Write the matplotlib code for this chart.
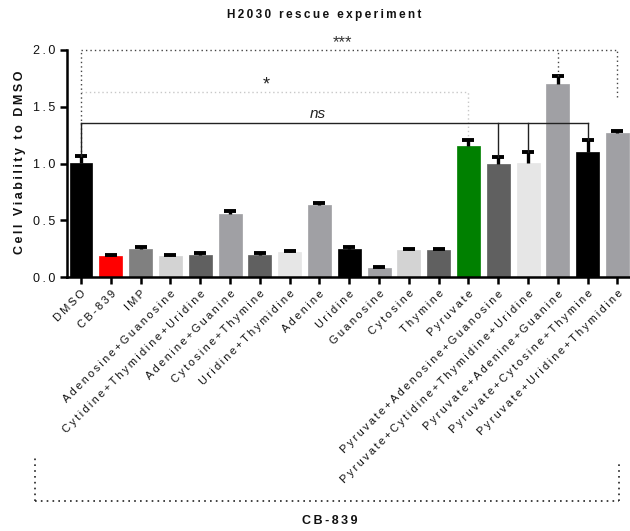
import matplotlib
matplotlib.use("Agg")
import matplotlib.pyplot as plt
import matplotlib.transforms as mtrans
import numpy as np

plt.rcParams['font.family'] = ['Liberation Sans', 'DejaVu Sans']

categories = ["DMSO", "CB-839", "IMP", "Adenosine+Guanosine", "Cytidine+Thymidine+Uridine",
              "Adenine+Guanine", "Cytosine+Thymine", "Uridine+Thymidine", "Adenine", "Uridine",
              "Guanosine", "Cytosine", "Thymine", "Pyruvate", "Pyruvate+Adenosine+Guanosine",
              "Pyruvate+Cytidine+Thymidine+Uridine", "Pyruvate+Adenine+Guanine",
              "Pyruvate+Cytosine+Thymine", "Pyruvate+Uridine+Thymidine"]
values = [1.01, 0.19, 0.25, 0.19, 0.20, 0.56, 0.20, 0.22, 0.64, 0.25,
          0.08, 0.24, 0.24, 1.155, 1.00, 1.01, 1.70, 1.10, 1.27]
errors = [0.06, 0.01, 0.02, 0.01, 0.015, 0.02, 0.015, 0.015, 0.01, 0.015,
          0.01, 0.01, 0.01, 0.05, 0.055, 0.09, 0.075, 0.11, 0.02]
colors = ["#000000", "#ff0000", "#808080", "#d3d3d3", "#606060", "#a0a0a4", "#606060",
          "#e6e6e6", "#a0a0a4", "#000000", "#a0a0a4", "#d3d3d3", "#606060", "#008000",
          "#606060", "#e6e6e6", "#a0a0a4", "#000000", "#a0a0a4"]
yticks = [0.0, 0.5, 1.0, 1.5, 2.0]

TS = '\u2009'
def sp(s):
    return TS.join(s)

fig = plt.figure(figsize=(6.3, 5.31), dpi=100)
ax = fig.add_axes([66.7 / 630, 1 - 277.3 / 531, (630 - 66.7) / 630, 227.3 / 531])

x = np.arange(len(categories))
ax.bar(x, values, width=0.77, color=colors, edgecolor=colors, linewidth=0.5, zorder=2)
eb = ax.errorbar(x, values, yerr=[np.zeros(len(errors)), errors], fmt='none',
                 ecolor='black', elinewidth=2.4, capsize=4.5, capthick=2.8, zorder=3)
eb[1][0].set_visible(False)

ax.set_xlim(-0.48, 18.42)
ax.set_ylim(0, 2.0)
ax.set_yticks(yticks)
ax.set_yticklabels([sp(f"{v:.1f}") for v in yticks], fontsize=9, color='#111111')
ax.set_xticks(x)
ax.set_xticklabels([sp(c) for c in categories], rotation=45, ha='right',
                   rotation_mode='anchor', fontsize=8, color='#111111')
for s in ['top', 'right']:
    ax.spines[s].set_visible(False)
for s in ['left', 'bottom']:
    ax.spines[s].set_linewidth(1.8)
ax.tick_params(axis='both', width=1.8, length=5, direction='out')
ax.tick_params(axis='x', pad=3)

top = [v + e for v, e in zip(values, errors)]
# *** bracket (dotted, dark)
kw3 = dict(color='#444444', linewidth=1.0, linestyle=(0, (1, 2.2)), clip_on=False, zorder=4)
ax.plot([0, 18], [2.0, 2.0], **kw3)
ax.plot([0, 0], [top[0], 2.0], **kw3)
ax.plot([16, 16], [top[16], 2.0], **kw3)
ax.plot([18, 18], [1.59, 2.0], **kw3)
ax.text(8.76, 2.0, '***', ha='center', va='bottom', fontsize=12, color='#333333')

# * bracket (dotted, light)
kw1 = dict(color='#c8c8c8', linewidth=1.0, linestyle=(0, (1, 2)), clip_on=False, zorder=1)
ax.plot([0, 13], [1.63, 1.63], **kw1)
ax.plot([13, 13], [top[13], 1.63], **kw1)
ax.text(6.2, 1.62, '*', ha='center', va='bottom', fontsize=13, color='#222222')

# ns bracket (solid)
kwn = dict(color='#222222', linewidth=1.0, clip_on=False, zorder=4)
ax.plot([0, 17], [1.36, 1.36], **kwn)
for i in [0, 14, 15, 17]:
    ax.plot([i, i], [top[i], 1.36], **kwn)
ax.text(7.95, 1.375, 'ns', ha='center', va='bottom', fontsize=11, style='italic', color='#222222')

# bottom CB-839 bracket
tr = mtrans.blended_transform_factory(ax.transData, fig.transFigure)
kwb = dict(color='#222222', linewidth=1.2, linestyle=(0, (1, 2.5)), clip_on=False, transform=tr)
yb = 1 - 501 / 531
ax.plot([-1.54, 18.05], [yb, yb], **kwb)
ax.plot([-1.54, -1.54], [yb, 1 - 458 / 531], **kwb)
ax.plot([18.05, 18.05], [yb, 1 - 461 / 531], **kwb)
fig.text(330 / 630, 1 - 521 / 531, sp('CB-839'), ha='center', va='center', fontsize=9,
         fontweight='bold', color='#111111')

fig.text(324 / 630, 1 - 15 / 531, sp('H2030 rescue experiment'), ha='center', va='center',
         fontsize=8.5, fontweight='bold', color='#111111')
fig.text(20 / 630, 1 - 162 / 531, sp('Cell Viability to DMSO'), ha='center', va='center',
         rotation=90, fontsize=9, fontweight='bold', color='#111111')

fig.savefig('out.png', dpi=100)
